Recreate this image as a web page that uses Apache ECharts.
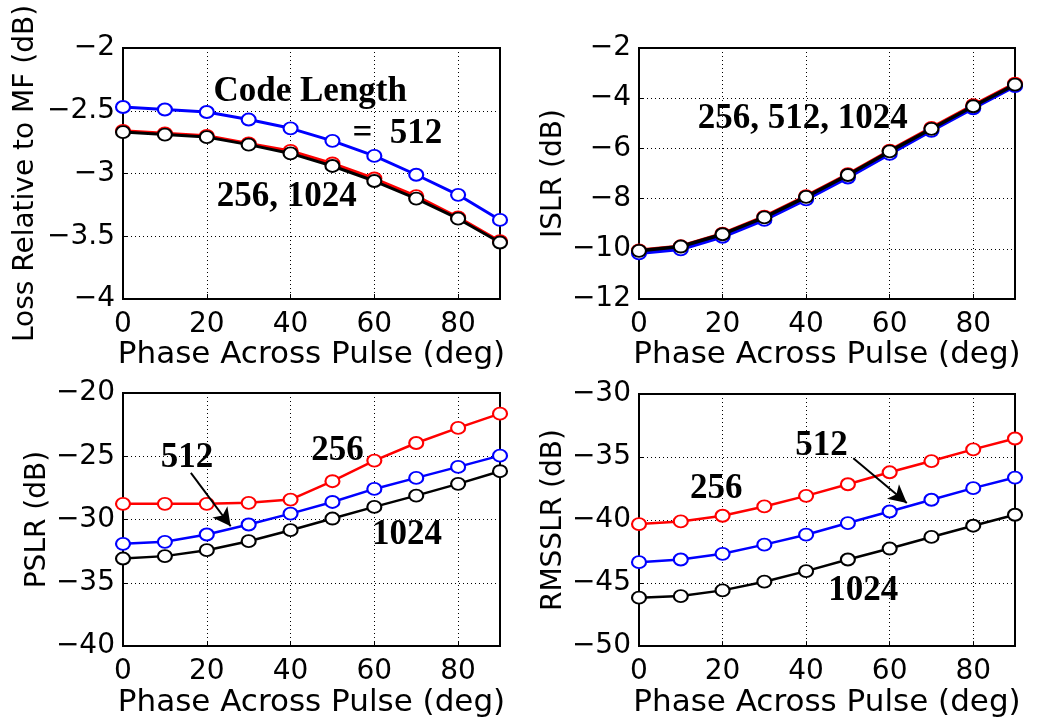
<!DOCTYPE html>
<html>
<head>
<meta charset="utf-8">
<script src="https://cdn.jsdelivr.net/npm/echarts@6/dist/echarts.min.js"></script>
<style>
html,body{margin:0;padding:0;background:#fff;}
#chart{width:1039px;height:719px;}
</style>
</head>
<body>
<div id="chart"></div>
<script>
// ---- data ----
var phase = [0, 10, 20, 30, 40, 50, 60, 70, 80, 90];
var xTicks = [0, 20, 40, 60, 80];

var loss256  = [-2.66, -2.68, -2.70, -2.76, -2.82, -2.92, -3.04, -3.18, -3.35, -3.54];
var loss512  = [-2.47, -2.49, -2.51, -2.57, -2.64, -2.74, -2.86, -3.01, -3.17, -3.37];
var loss1024 = [-2.67, -2.69, -2.71, -2.77, -2.84, -2.94, -3.06, -3.20, -3.36, -3.55];

var islr256  = [-10.06, -9.90, -9.40, -8.72, -7.90, -7.03, -6.09, -5.18, -4.28, -3.42];
var islr512  = [-10.18, -10.02, -9.52, -8.85, -8.03, -7.16, -6.22, -5.30, -4.40, -3.52];
var islr1024 = [-10.08, -9.91, -9.42, -8.75, -7.93, -7.06, -6.12, -5.22, -4.32, -3.46];

var pslr256  = [-28.76, -28.76, -28.76, -28.68, -28.42, -26.97, -25.34, -23.95, -22.76, -21.63];
var pslr512  = [-31.92, -31.76, -31.18, -30.39, -29.53, -28.61, -27.58, -26.71, -25.84, -24.95];
var pslr1024 = [-33.08, -32.89, -32.42, -31.71, -30.84, -29.92, -29.00, -28.11, -27.18, -26.18];

var rms256  = [-40.32, -40.11, -39.66, -38.92, -38.08, -37.16, -36.21, -35.32, -34.39, -33.53];
var rms512  = [-43.34, -43.13, -42.68, -41.95, -41.16, -40.24, -39.32, -38.39, -37.47, -36.63];
var rms1024 = [-46.16, -46.03, -45.58, -44.89, -44.05, -43.13, -42.26, -41.34, -40.45, -39.58];

var yTitles = ['Loss Relative to MF (dB)', 'ISLR (dB)', 'PSLR (dB)', 'RMSSLR (dB)'];
var xTitle = 'Phase Across Pulse (deg)';
var yRanges = [[-4, -2, 0.5], [-12, -2, 2], [-40, -20, 5], [-50, -30, 5]];

// annotations: [gridIndex, x, y, text]
var notes = [
  [0, 44.7, -2.35, 'Code Length'],
  [0, 65.5, -2.683, '=  512'],
  [0, 39.1, -3.189, '256, 1024'],
  [1, 39.2, -4.83, '256, 512, 1024'],
  [2, 15.3, -25.13, '512'],
  [2, 51.2, -24.55, '256'],
  [2, 67.8, -31.18, '1024'],
  [3, 18.5, -37.5, '256'],
  [3, 43.7, -34.13, '512'],
  [3, 53.7, -45.63, '1024']
];
// arrows: [gridIndex, x0, y0, x1, y1]
var arrows = [
  [2, 16.2, -26.31, 25.7, -30.53],
  [3, 51.3, -35.1, 64.1, -38.65]
];

// ---- layout ----
var grids = [
  {left: 123, top: 48, width: 377, height: 251},
  {left: 639, top: 48, width: 376, height: 251},
  {left: 123, top: 393, width: 377, height: 254},
  {left: 639, top: 394, width: 376, height: 253}
];
var yNameGaps = [83, 63, 70, 63];
var SANS = '"DejaVu Sans", sans-serif';

function minusFmt(v) { return String(v).replace('-', '\u2212'); }
function pairs(ys) { return phase.map(function (p, i) { return [p, ys[i]]; }); }

var xAxes = [], yAxes = [], gridOpts = [];
for (var g = 0; g < 4; g++) {
  gridOpts.push({
    left: grids[g].left, top: grids[g].top, width: grids[g].width, height: grids[g].height,
    show: true, borderColor: '#000', borderWidth: 2, backgroundColor: 'transparent'
  });
  xAxes.push({
    type: 'value', gridIndex: g, min: 0, max: 90, interval: 20,
    name: xTitle, nameLocation: 'middle', nameGap: 36,
    nameTextStyle: {fontFamily: SANS, fontSize: 31, color: '#000'},
    axisLine: {show: true, lineStyle: {color: '#000', width: 2}},
    axisTick: {show: true, inside: true, length: 5, lineStyle: {color: '#000', width: 1}},
    axisLabel: {show: true, showMaxLabel: false, margin: 12, fontFamily: SANS, fontSize: 28, color: '#000',
      formatter: function (v) { return xTicks.indexOf(v) >= 0 ? String(v) : ''; }},
    splitLine: {show: true, lineStyle: {color: '#000', width: 1, type: [1, 3]}}
  });
  yAxes.push({
    type: 'value', gridIndex: g, min: yRanges[g][0], max: yRanges[g][1], interval: yRanges[g][2],
    name: yTitles[g], nameLocation: 'middle', nameGap: yNameGaps[g],
    nameTextStyle: {fontFamily: SANS, fontSize: 28, color: '#000'},
    axisLine: {show: true, lineStyle: {color: '#000', width: 2}},
    axisTick: {show: true, inside: true, length: 5, lineStyle: {color: '#000', width: 1}},
    axisLabel: {show: true, margin: 8, fontFamily: SANS, fontSize: 28, color: '#000', formatter: minusFmt},
    splitLine: {show: true, lineStyle: {color: '#000', width: 1, type: [1, 3]}}
  });
}

var panelData = [
  [loss256, loss512, loss1024],
  [islr256, islr512, islr1024],
  [pslr256, pslr512, pslr1024],
  [rms256, rms512, rms1024]
];
var colors = ['#ff0000', '#0000ff', '#000000'];
var lineWidths = [3, 3.5, 2.5, 2.5];

var series = [];
for (var p = 0; p < 4; p++) {
  for (var s = 0; s < 3; s++) {
    var ser = {
      type: 'line', xAxisIndex: p, yAxisIndex: p, data: pairs(panelData[p][s]),
      symbol: 'emptyCircle', symbolSize: [14, 12], clip: false, animation: false,
      lineStyle: {color: colors[s], width: lineWidths[p]},
      itemStyle: {color: colors[s], borderColor: colors[s], borderWidth: 2.5},
      z: 3 + s
    };
    if (s === 1) {
      var ml = arrows.filter(function (a) { return a[0] === p; });
      if (ml.length) {
        ser.markLine = {
          silent: true, animation: false, symbol: ['none', 'arrow'], symbolSize: [14, 18],
          label: {show: false},
          lineStyle: {color: '#000', width: 2, type: 'solid'},
          data: ml.map(function (a) { return [{coord: [a[1], a[2]]}, {coord: [a[3], a[4]]}]; })
        };
      }
    }
    series.push(ser);
  }
}

var chart = echarts.init(document.getElementById('chart'), null, {renderer: 'canvas'});
chart.setOption({
  backgroundColor: '#fff',
  animation: false,
  grid: gridOpts,
  xAxis: xAxes,
  yAxis: yAxes,
  series: series
});

var graphics = notes.map(function (n) {
  var pt = chart.convertToPixel({gridIndex: n[0]}, [n[1], n[2]]);
  return {
    type: 'text', x: pt[0], y: pt[1], z: 100,
    style: {
      text: n[3], font: 'bold 35px "Liberation Serif", "Times New Roman", serif', fill: '#000',
      textAlign: 'center', textVerticalAlign: 'middle', align: 'center', verticalAlign: 'middle'
    }
  };
});
chart.setOption({graphic: graphics});
</script>
</body>
</html>
